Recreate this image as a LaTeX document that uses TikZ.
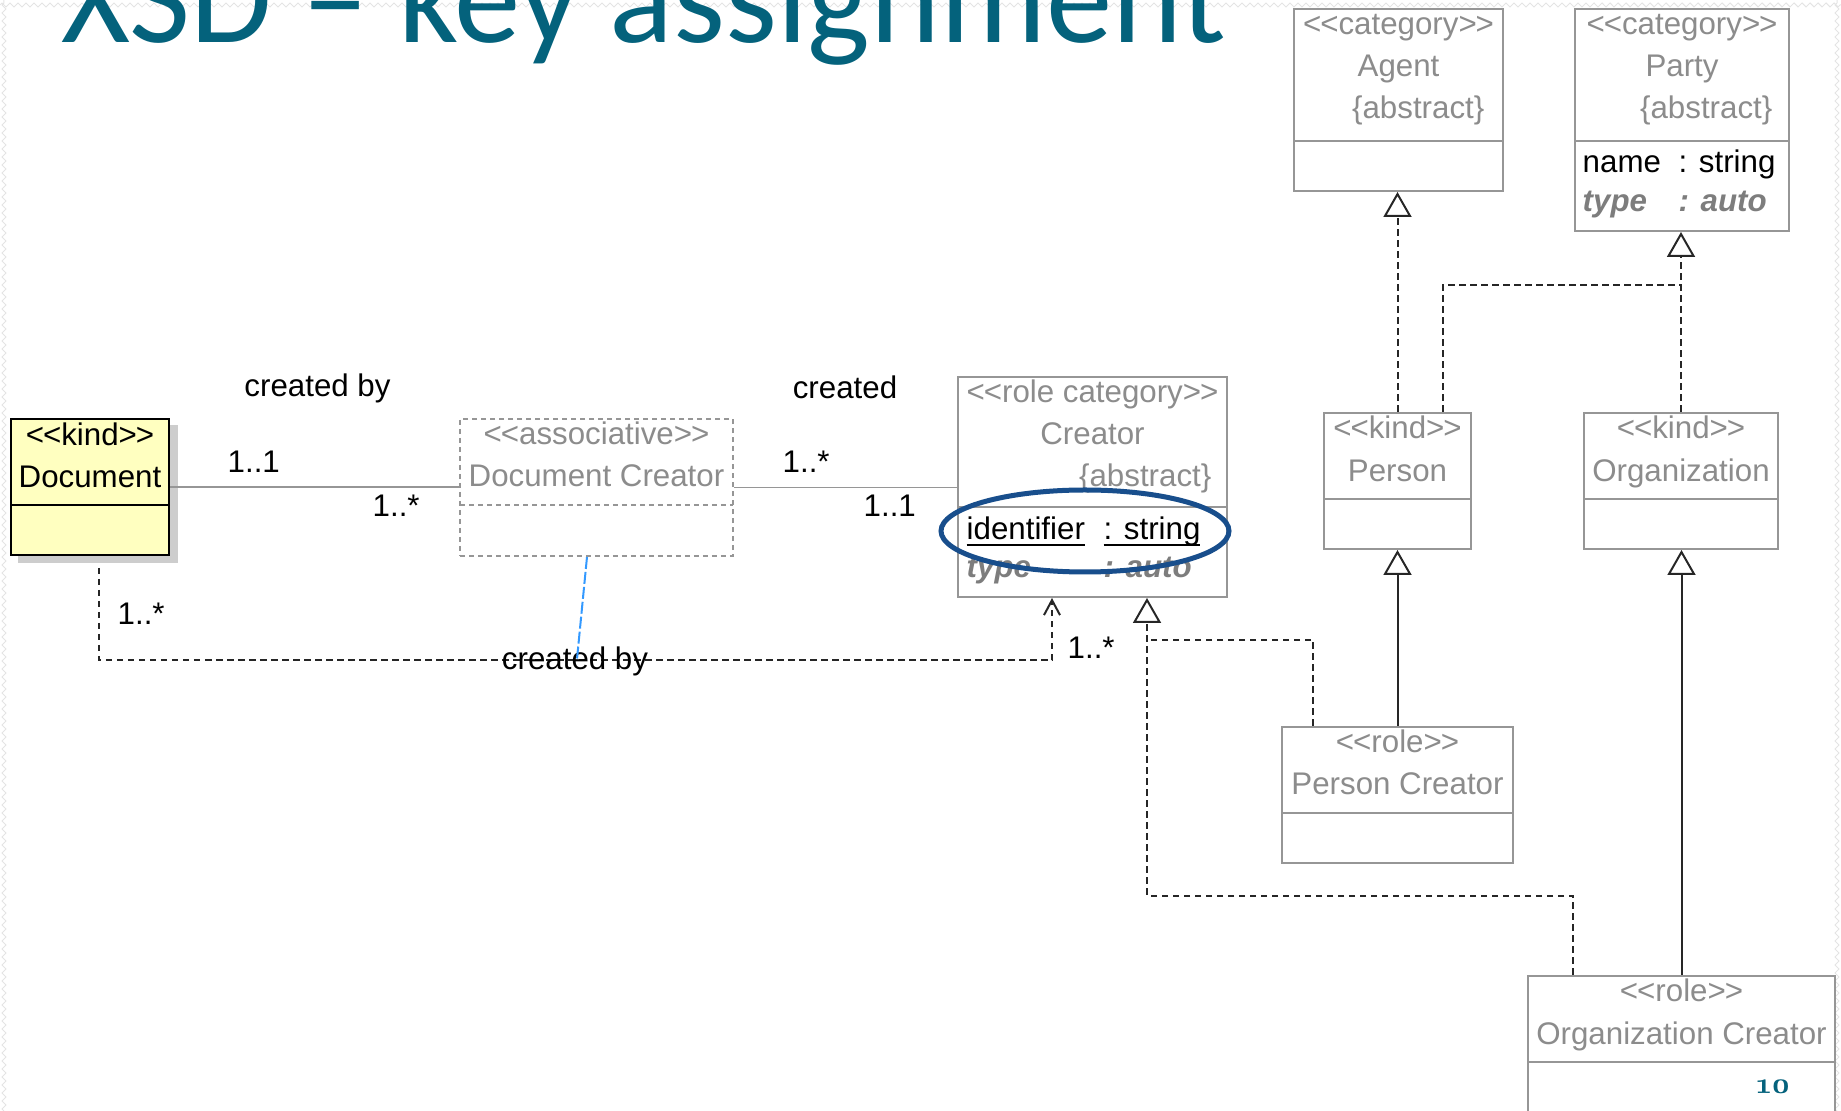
\documentclass[tikz,border=0pt]{standalone}
\usepackage{fontspec}
\usepackage{tikz}
\usetikzlibrary{arrows.meta, positioning, decorations.pathmorphing}
\newfontfamily\umlfont{Liberation Sans}
\newfontfamily\titlefont{Carlito}
\newfontfamily\numfont{lmroman10-bold.otf}[Numbers=OldStyle]
\definecolor{titleteal}{RGB}{4,98,124}
\definecolor{umlgray}{RGB}{150,150,150}
\definecolor{umltext}{RGB}{140,140,140}
\definecolor{attrgray}{RGB}{125,125,125}
\definecolor{docyellow}{RGB}{255,255,192}
\definecolor{shadowgray}{RGB}{205,205,205}
\definecolor{assocblue}{RGB}{51,153,255}
\definecolor{keyblue}{RGB}{24,78,140}
\definecolor{edgegray}{RGB}{228,228,228}
\newcommand{\stereo}[1]{<\kern-0.3pt<#1>\kern-0.3pt>}
\tikzset{
  classbox/.style={rectangle, draw=umlgray, fill=white, line width=0.02cm, inner sep=0pt},
  assocbox/.style={classbox, dash pattern=on 0.05cm off 0.04cm},
  divline/.style={draw=umlgray, line width=0.02cm},
  cname/.style={anchor=base, text=umltext},
  abstr/.style={anchor=base east, text=umltext},
  attr/.style={anchor=base west, text=black},
  attrit/.style={anchor=base west, text=attrgray,
    font=\umlfont\fontsize{8.9}{11}\selectfont\bfseries\itshape},
  mult/.style={anchor=base west, text=black},
  role/.style={anchor=base, text=black},
  assoc/.style={draw=umlgray, line width=0.015cm},
  depline/.style={draw=black!85, line width=0.02cm},
  dashline/.style={dash pattern=on 0.065cm off 0.045cm},
  gen/.style={depline, -{Triangle[open, length=0.25cm, width=0.28cm, line width=0.02cm]}},
  edgezig/.style={draw=edgegray, line width=0.01cm, decorate,
    decoration={zigzag, amplitude=0.02cm, segment length=0.08cm}},
  titletext/.style={font=\titlefont\fontsize{37.8}{40}\selectfont, text=titleteal, anchor=base west}
}

\begin{document}
\begin{tikzpicture}[every node/.style={font=\umlfont\fontsize{8.9}{11}\selectfont, inner sep=0pt}]
  \useasboundingbox (0,0) rectangle (18.41,11.11);
  \clip (0,0) rectangle (18.41,11.11);

  % Slide edge texture
  \draw[edgezig] (0,11.06) -- (18.41,11.06);
  \draw[edgezig] (0.04,0) -- (0.04,11.11);
  \draw[edgezig] (18.37,0) -- (18.37,11.11);

  % Title, cut by the top of the slide
  \node[titletext] (title) at (0.61,10.68) {XSD – key assignment};

  % Document with its shadow
  \fill[shadowgray] (0.18,5.48) rectangle (1.78,6.86);
  \node[classbox, fill=docyellow, draw=black, minimum width=1.58cm, minimum height=1.36cm] (doc) at (0.90,6.24) {};
  \draw[line width=0.02cm] (0.11,6.06) -- (1.69,6.06);
  \node[cname, text=black] (docst) at (0.90,6.65) {\stereo{kind}};
  \node[cname, text=black] (docnm) at (0.90,6.23) {Document};

  % Document Creator (associative class)
  \node[assocbox, minimum width=2.73cm, minimum height=1.37cm] (dc) at (5.965,6.235) {};
  \draw[divline, dash pattern=on 0.05cm off 0.04cm] (4.60,6.06) -- (7.33,6.06);
  \node[cname] (dcst) at (5.965,6.66) {\stereo{associative}};
  \node[cname] (dcnm) at (5.965,6.24) {Document Creator};

  % Creator
  \node[classbox, minimum width=2.69cm, minimum height=2.20cm] (cr) at (10.925,6.24) {};
  \draw[divline] (9.58,6.04) -- (12.27,6.04);
  \node[cname] (crst) at (10.925,7.08) {\stereo{role category}};
  \node[cname] (crnm) at (10.925,6.66) {Creator};
  \node[abstr] (crab) at (12.12,6.24) {\{abstract\}};
  \node[attr] (crid) at (9.66,5.71) {\underline{\smash{identifier}}};
  \node[attr] (crids) at (11.03,5.71) {\underline{\smash{: string}}};
  \node[attrit] (crty) at (9.66,5.33) {type};
  \node[attrit] (crtys) at (11.03,5.33) {: auto};

  % Agent
  \node[classbox, minimum width=2.09cm, minimum height=1.82cm] (ag) at (13.985,10.11) {};
  \draw[divline] (12.94,9.70) -- (15.03,9.70);
  \node[cname] (agst) at (13.985,10.76) {\stereo{category}};
  \node[cname] (agnm) at (13.985,10.34) {Agent};
  \node[abstr] (agab) at (14.85,9.92) {\{abstract\}};

  % Party
  \node[classbox, minimum width=2.14cm, minimum height=2.22cm] (pa) at (16.82,9.91) {};
  \draw[divline] (15.75,9.70) -- (17.89,9.70);
  \node[cname] (past) at (16.82,10.76) {\stereo{category}};
  \node[cname] (panm) at (16.82,10.34) {Party};
  \node[abstr] (paab) at (17.73,9.92) {\{abstract\}};
  \node[attr] (pana) at (15.82,9.38) {name};
  \node[attr] (panas) at (16.78,9.38) {: string};
  \node[attrit] (paty) at (15.82,8.99) {type};
  \node[attrit] (patys) at (16.78,8.99) {: auto};

  % Person and Organization
  \node[classbox, minimum width=1.47cm, minimum height=1.36cm] (pe) at (13.975,6.30) {};
  \draw[divline] (13.24,6.12) -- (14.71,6.12);
  \node[cname] (pest) at (13.975,6.72) {\stereo{kind}};
  \node[cname] (penm) at (13.975,6.29) {Person};

  \node[classbox, minimum width=1.94cm, minimum height=1.36cm] (org) at (16.81,6.30) {};
  \draw[divline] (15.84,6.12) -- (17.78,6.12);
  \node[cname] (orgst) at (16.81,6.72) {\stereo{kind}};
  \node[cname] (orgnm) at (16.81,6.29) {Organization};

  % Person Creator and Organization Creator
  \node[classbox, minimum width=2.31cm, minimum height=1.36cm] (pc) at (13.975,3.16) {};
  \draw[divline] (12.82,2.98) -- (15.13,2.98);
  \node[cname] (pcst) at (13.975,3.58) {\stereo{role}};
  \node[cname] (pcnm) at (13.975,3.16) {Person Creator};

  \node[classbox, minimum width=3.07cm, minimum height=1.54cm] (oc) at (16.815,0.58) {};
  \draw[divline] (15.28,0.49) -- (18.35,0.49);
  \node[cname] (ocst) at (16.815,1.09) {\stereo{role}};
  \node[cname] (ocnm) at (16.815,0.66) {Organization Creator};

  % Associations through Document Creator
  \draw[assoc] (doc.east) -- (doc.east -| dc.west);
  \draw[assoc] (dc.east) -- (dc.east -| cr.west);
  \node[role] (crby) at (3.175,7.14) {created by};
  \node[mult] (m1) at (2.27,6.38) {1..1};
  \node[mult] (m2) at (3.72,5.94) {1..*};
  \node[role] (crtd) at (8.45,7.12) {created};
  \node[mult] (m3) at (7.82,6.38) {1..*};
  \node[mult] (m4) at (8.63,5.94) {1..1};

  % Derived relation Document -> Creator
  \coordinate (docfoot) at ([xshift=0.09cm,yshift=-0.12cm]doc.south);
  \draw[depline, dashline, -{Straight Barb[length=0.15cm, width=0.16cm]}]
    (docfoot) -- ++(0,-0.92) -| ([xshift=-0.405cm]cr.south);
  \node[mult] (m5) at (1.17,4.86) {1..*};
  \node[role] (crby2) at (5.75,4.41) {created by};
  \node[mult] (m6) at (10.67,4.52) {1..*};

  % Association class link
  \coordinate (assocfoot) at (5.77,4.52);
  \draw[assocblue, line width=0.02cm, dash pattern=on 0.12cm off 0.03cm]
    ([xshift=-0.095cm]dc.south) -- (assocfoot);

  % Generalizations
  \draw[gen, dashline] (pe.north) -- (pe.north |- ag.south);
  \coordinate (partyjoin) at (16.81,8.26);
  \draw[gen, dashline] (org.north) -- (org.north |- pa.south);
  \draw[depline, dashline] ([xshift=0.455cm]pe.north) |- (partyjoin);
  \draw[gen] (pc.north) -- (pe.south);
  \draw[gen] (oc.north) -- (oc.north |- org.south);
  \coordinate (creatorjoin) at (11.47,4.71);
  \draw[gen, dashline] ([xshift=-1.085cm]oc.north) -- ++(0,0.79) -| ([xshift=0.545cm]cr.south);
  \draw[depline, dashline] ([xshift=-0.845cm]pc.north) |- (creatorjoin);

  % Key attribute highlight
  \draw[keyblue, line width=0.05cm] (10.85,5.80) ellipse [x radius=1.44, y radius=0.41];

  % Slide number
  \node[font=\numfont\fontsize{8.5}{10}\selectfont, text=titleteal, anchor=base] (pagenum) at (17.735,0.17) {10};
\end{tikzpicture}
\end{document}
